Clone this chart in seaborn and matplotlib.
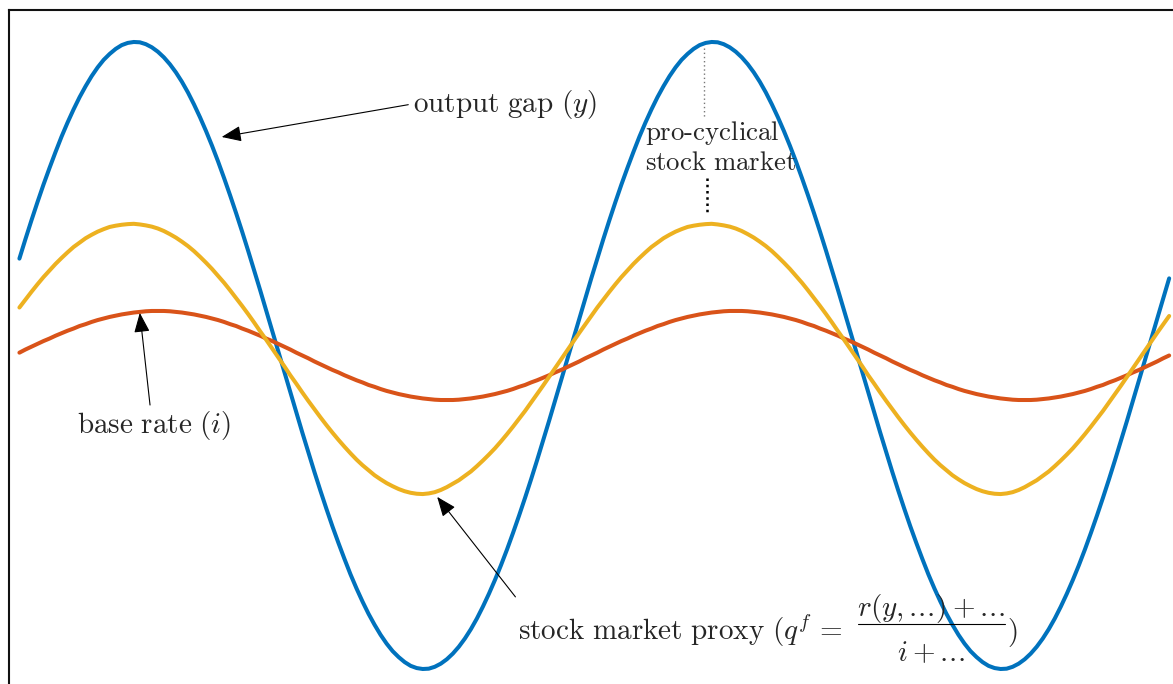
import matplotlib
matplotlib.use("Agg")
import matplotlib.pyplot as plt
import seaborn as sns

# time steps (96 half-steps per cycle)
t = [i * 0.5 for i in range(192)]

output_gap = [30.9, 37.1, 43.1, 48.9, 54.5, 59.8, 64.9, 69.8, 74.3, 78.5,
              82.4, 85.9, 89.1, 91.9, 94.3, 96.2, 97.8, 99.0, 99.7, 100.0,
              99.9, 99.3, 98.3, 96.9, 95.1, 92.9, 90.3, 87.3, 83.9, 80.1,
              76.0, 71.6, 66.9, 61.9, 56.6, 51.1, 45.4, 39.5, 33.4, 27.1,
              20.8, 14.3, 7.9, 1.3, -5.2, -11.8, -18.2, -24.6, -30.9, -37.1,
              -43.1, -48.9, -54.5, -59.8, -64.9, -69.8, -74.3, -78.5, -82.4, -85.9,
              -89.1, -91.9, -94.3, -96.2, -97.8, -99.0, -99.7, -100.0, -99.9, -99.3,
              -98.3, -96.9, -95.1, -92.9, -90.3, -87.3, -83.9, -80.1, -76.0, -71.6,
              -66.9, -61.9, -56.6, -51.1, -45.4, -39.5, -33.4, -27.1, -20.8, -14.3,
              -7.9, -1.3, 5.2, 11.8, 18.2, 24.6,
              30.9, 37.1, 43.1, 48.9, 54.5, 59.8, 64.9, 69.8, 74.3, 78.5,
              82.4, 85.9, 89.1, 91.9, 94.3, 96.2, 97.8, 99.0, 99.7, 100.0,
              99.9, 99.3, 98.3, 96.9, 95.1, 92.9, 90.3, 87.3, 83.9, 80.1,
              76.0, 71.6, 66.9, 61.9, 56.6, 51.1, 45.4, 39.5, 33.4, 27.1,
              20.8, 14.3, 7.9, 1.3, -5.2, -11.8, -18.2, -24.6, -30.9, -37.1,
              -43.1, -48.9, -54.5, -59.8, -64.9, -69.8, -74.3, -78.5, -82.4, -85.9,
              -89.1, -91.9, -94.3, -96.2, -97.8, -99.0, -99.7, -100.0, -99.9, -99.3,
              -98.3, -96.9, -95.1, -92.9, -90.3, -87.3, -83.9, -80.1, -76.0, -71.6,
              -66.9, -61.9, -56.6, -51.1, -45.4, -39.5, -33.4, -27.1, -20.8, -14.3,
              -7.9, -1.3, 5.2, 11.8, 18.2, 24.6]

stock_proxy = [15.3, 17.8, 20.3, 22.7, 25.0, 27.1, 29.2, 31.1, 32.9, 34.6,
               36.0, 37.4, 38.5, 39.5, 40.3, 41.0, 41.4, 41.7, 41.9, 42.0,
               41.8, 41.5, 41.1, 40.5, 39.7, 38.7, 37.6, 36.3, 34.9, 33.3,
               31.5, 29.6, 27.6, 25.4, 23.2, 20.8, 18.3, 15.8, 13.2, 10.5,
               7.7, 5.0, 2.2, -0.6, -3.4, -6.3, -9.0, -11.8, -14.5, -17.1,
               -19.7, -22.2, -24.6, -26.9, -29.1, -31.2, -33.2, -35.0, -36.6, -38.2,
               -39.5, -40.7, -41.7, -42.6, -43.3, -43.8, -44.1, -44.2, -44.0, -43.6,
               -42.9, -42.0, -40.9, -39.8, -38.4, -37.0, -35.3, -33.5, -31.6, -29.6,
               -27.4, -25.1, -22.7, -20.2, -17.7, -15.0, -12.3, -9.6, -6.8, -4.0,
               -1.2, 1.6, 4.4, 7.2, 9.9, 12.6,
               15.3, 17.8, 20.3, 22.7, 25.0, 27.1, 29.2, 31.1, 32.9, 34.6,
               36.0, 37.4, 38.5, 39.5, 40.3, 41.0, 41.4, 41.7, 41.9, 42.0,
               41.8, 41.5, 41.1, 40.5, 39.7, 38.7, 37.6, 36.3, 34.9, 33.3,
               31.5, 29.6, 27.6, 25.4, 23.2, 20.8, 18.3, 15.8, 13.2, 10.5,
               7.7, 5.0, 2.2, -0.6, -3.4, -6.3, -9.0, -11.8, -14.5, -17.1,
               -19.7, -22.2, -24.6, -26.9, -29.1, -31.2, -33.2, -35.0, -36.6, -38.2,
               -39.5, -40.7, -41.7, -42.6, -43.3, -43.8, -44.1, -44.2, -44.0, -43.6,
               -42.9, -42.0, -40.9, -39.8, -38.4, -37.0, -35.3, -33.5, -31.6, -29.6,
               -27.4, -25.1, -22.7, -20.2, -17.7, -15.0, -12.3, -9.6, -6.8, -4.0,
               -1.2, 1.6, 4.4, 7.2, 9.9, 12.6]

base_rate = [0.9, 1.9, 2.8, 3.7, 4.6, 5.4, 6.3, 7.1, 7.9, 8.6,
             9.4, 10.0, 10.7, 11.3, 11.8, 12.3, 12.7, 13.1, 13.4, 13.7,
             13.9, 14.1, 14.2, 14.2, 14.2, 14.1, 13.9, 13.7, 13.4, 13.1,
             12.7, 12.3, 11.8, 11.3, 10.7, 10.0, 9.4, 8.6, 7.9, 7.1,
             6.3, 5.4, 4.6, 3.7, 2.8, 1.9, 0.9, 0.0, -0.9, -1.9,
             -2.8, -3.7, -4.6, -5.4, -6.3, -7.1, -7.9, -8.6, -9.4, -10.0,
             -10.7, -11.3, -11.8, -12.3, -12.7, -13.1, -13.4, -13.7, -13.9, -14.1,
             -14.2, -14.2, -14.2, -14.1, -13.9, -13.7, -13.4, -13.1, -12.7, -12.3,
             -11.8, -11.3, -10.7, -10.0, -9.4, -8.6, -7.9, -7.1, -6.3, -5.4,
             -4.6, -3.7, -2.8, -1.9, -0.9, 0.0,
             0.9, 1.9, 2.8, 3.7, 4.6, 5.4, 6.3, 7.1, 7.9, 8.6,
             9.4, 10.0, 10.7, 11.3, 11.8, 12.3, 12.7, 13.1, 13.4, 13.7,
             13.9, 14.1, 14.2, 14.2, 14.2, 14.1, 13.9, 13.7, 13.4, 13.1,
             12.7, 12.3, 11.8, 11.3, 10.7, 10.0, 9.4, 8.6, 7.9, 7.1,
             6.3, 5.4, 4.6, 3.7, 2.8, 1.9, 0.9, 0.0, -0.9, -1.9,
             -2.8, -3.7, -4.6, -5.4, -6.3, -7.1, -7.9, -8.6, -9.4, -10.0,
             -10.7, -11.3, -11.8, -12.3, -12.7, -13.1, -13.4, -13.7, -13.9, -14.1,
             -14.2, -14.2, -14.2, -14.1, -13.9, -13.7, -13.4, -13.1, -12.7, -12.3,
             -11.8, -11.3, -10.7, -10.0, -9.4, -8.6, -7.9, -7.1, -6.3, -5.4,
             -4.6, -3.7, -2.8, -1.9, -0.9, 0.0]

sns.set_style("white")
plt.rcParams["mathtext.fontset"] = "cm"

fig = plt.figure(figsize=(11.73, 6.84), dpi=100)
ax = fig.add_axes([9 / 1173, -6 / 684, 1171 / 1173, 680 / 684])

lw = 2.9
sns.lineplot(x=t, y=output_gap, color="#0072BD", linewidth=lw, ax=ax)
sns.lineplot(x=t, y=base_rate, color="#D95319", linewidth=lw, ax=ax)
sns.lineplot(x=t, y=stock_proxy, color="#EDB120", linewidth=lw, ax=ax)

ax.set_xlim(-0.864, 96.4)
ax.set_ylim(-106.7, 110.2)
ax.set_xticks([])
ax.set_yticks([])
ax.set_xlabel("")
ax.set_ylabel("")
for s in ax.spines.values():
    s.set_visible(True)
    s.set_color("#111111")
    s.set_linewidth(1.5)

fs = 21
arrow = dict(arrowstyle="-|>,head_length=0.55,head_width=0.22", color="black",
             lw=0.8, shrinkA=0, shrinkB=0, mutation_scale=22)
dots = r".\!.\!.\!"

# output gap label
ax.text(32.7, 80.2, r"$\mathrm{output\ gap\ }(y)$", fontsize=fs, va="center", ha="left")
ax.annotate("", xy=(16.8, 69.7), xytext=(32.3, 80.0), arrowprops=arrow)

# base rate label
ax.text(4.8, -22.2, r"$\mathrm{base\ rate\ }(i)$", fontsize=fs, va="center", ha="left")
ax.annotate("", xy=(10.0, 13.6), xytext=(10.85, -15.8), arrowprops=arrow)

# stock market proxy label, fraction set by hand
ax.text(41.41, -90.75, r"$\mathrm{stock\ market\ proxy\ }(q^f\,=$",
        fontsize=fs, va="baseline", ha="left")
ax.text(75.71, -83.1, r"$r(y," + dots + r") + " + dots + r"$",
        fontsize=fs, va="baseline", ha="center")
ax.plot([69.65, 81.86], [-85.65, -85.65], color="black", linewidth=0.8)
ax.text(75.71, -97.45, r"$i + " + dots + r"$", fontsize=fs, va="baseline", ha="center")
ax.text(82.03, -90.75, r"$)$", fontsize=fs, va="baseline", ha="left")
ax.annotate("", xy=(34.7, -45.1), xytext=(41.2, -77.0), arrowprops=arrow)

# pro-cyclical note with dotted guides
ax.text(52.0, 71.0, r"$\mathrm{pro\text{-}cyclical}$", fontsize=19.3, va="center", ha="left")
ax.text(52.0, 61.4, r"$\mathrm{stock\ market}$", fontsize=19.3, va="center", ha="left")
ax.plot([56.9, 56.9], [98.1, 75.8], color="#777777", linestyle=(0, (1, 2)), linewidth=1.0)
ax.plot([57.1, 57.1], [56.6, 44.8], color="black", linestyle=(0, (1, 1.5)), linewidth=1.8)

fig.savefig("out.png", dpi=100)
